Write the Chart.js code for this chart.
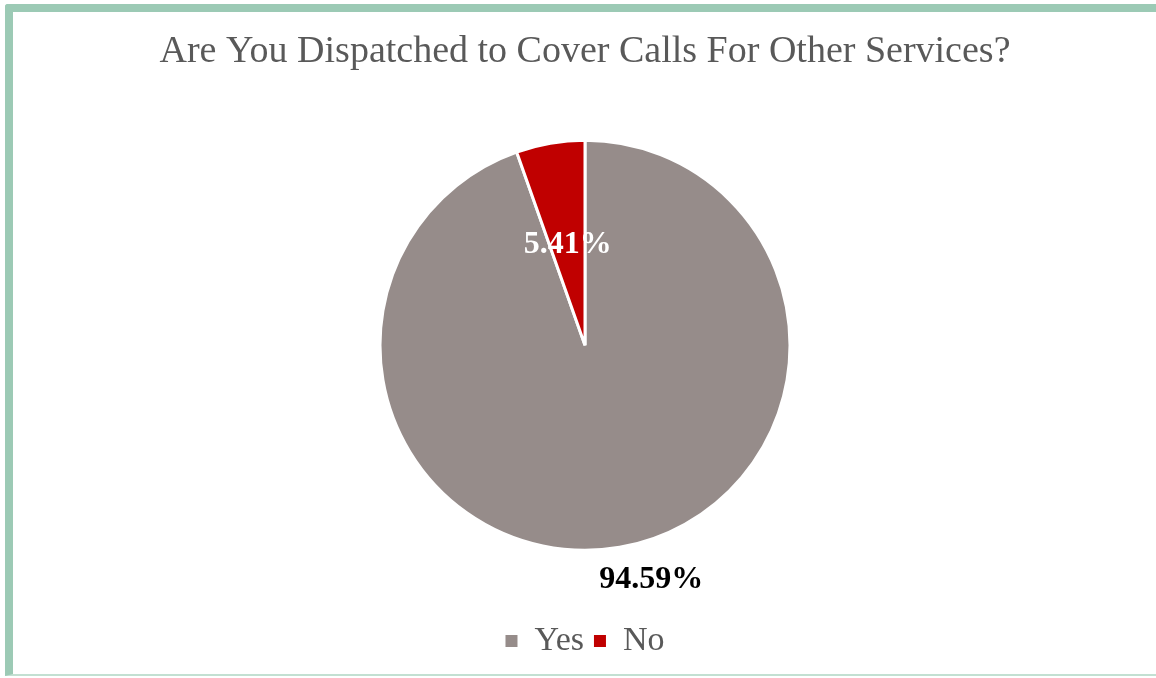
<!DOCTYPE html>
<html>
<head>
<meta charset="utf-8">
<script src="https://cdn.jsdelivr.net/npm/chart.js@4"></script>
<style>
  html, body { margin: 0; padding: 0; background: #fff; }
  body { width: 1156px; height: 678px; position: relative; overflow: hidden; }
  .frame {
    position: absolute;
    left: 5px;
    top: 4px;
    width: 1170px;
    height: 662px;
    border-left: 8px solid #9ccab5;
    border-top: 8px solid #9ccab5;
    border-bottom: 2px solid #c3e0d2;
    border-top-left-radius: 3px;
  }
  .chart-box { position: absolute; left: 0; top: 0; width: 1156px; height: 678px; }
</style>
</head>
<body>
<div class="frame"></div>
<div class="chart-box"><canvas id="dispatchChart"></canvas></div>
<script>
const categories = ['Yes', 'No'];
const shares = [94.59, 5.41];
const sliceColors = ['#968c8a', '#c00000'];
const labelColors = ['#000000', '#ffffff'];

// where each value label sits: distance from centre (share of radius) and turn from slice middle
const labelPlacement = [
  { dist: 1.19, turn: -6 },
  { dist: 0.5, turn: 0 },
];

const serif = '"Liberation Serif", "Times New Roman", serif';

const sliceLabels = {
  id: 'sliceLabels',
  afterDatasetsDraw(chart) {
    const { ctx } = chart;
    const meta = chart.getDatasetMeta(0);
    ctx.save();
    ctx.font = `bold 32px ${serif}`;
    ctx.textAlign = 'center';
    ctx.textBaseline = 'middle';
    meta.data.forEach((arc, i) => {
      const p = arc.getProps(['x', 'y', 'startAngle', 'endAngle', 'outerRadius'], true);
      const mid = (p.startAngle + p.endAngle) / 2 + (labelPlacement[i].turn * Math.PI) / 180;
      const r = p.outerRadius * labelPlacement[i].dist;
      ctx.fillStyle = labelColors[i];
      ctx.fillText(`${shares[i].toFixed(2)}%`, p.x + Math.cos(mid) * r, p.y + Math.sin(mid) * r);
    });
    ctx.restore();
  },
};

const baseLabels = Chart.overrides.pie.plugins.legend.labels.generateLabels;

new Chart(document.getElementById('dispatchChart'), {
  type: 'pie',
  data: {
    labels: categories,
    datasets: [
      {
        data: shares,
        backgroundColor: sliceColors,
        borderColor: '#ffffff',
        borderWidth: 3,
        hoverOffset: 0,
      },
    ],
  },
  options: {
    responsive: true,
    maintainAspectRatio: false,
    animation: false,
    radius: 205,
    layout: {
      padding: { left: 14, right: 0, top: 0, bottom: 10 },
    },
    plugins: {
      title: {
        display: true,
        text: 'Are You Dispatched to Cover Calls For Other Services?',
        color: '#595959',
        font: { family: serif, size: 38, weight: 'normal' },
        padding: { top: 29, bottom: 2 },
      },
      legend: {
        position: 'bottom',
        labels: {
          color: '#595959',
          boxWidth: 12,
          boxHeight: 12,
          padding: 10,
          font: { family: serif, size: 34 },
          generateLabels(chart) {
            return baseLabels(chart).map((item) => ({ ...item, lineWidth: 0 }));
          },
        },
      },
      tooltip: { enabled: false },
    },
  },
  plugins: [sliceLabels],
});
</script>
</body>
</html>
